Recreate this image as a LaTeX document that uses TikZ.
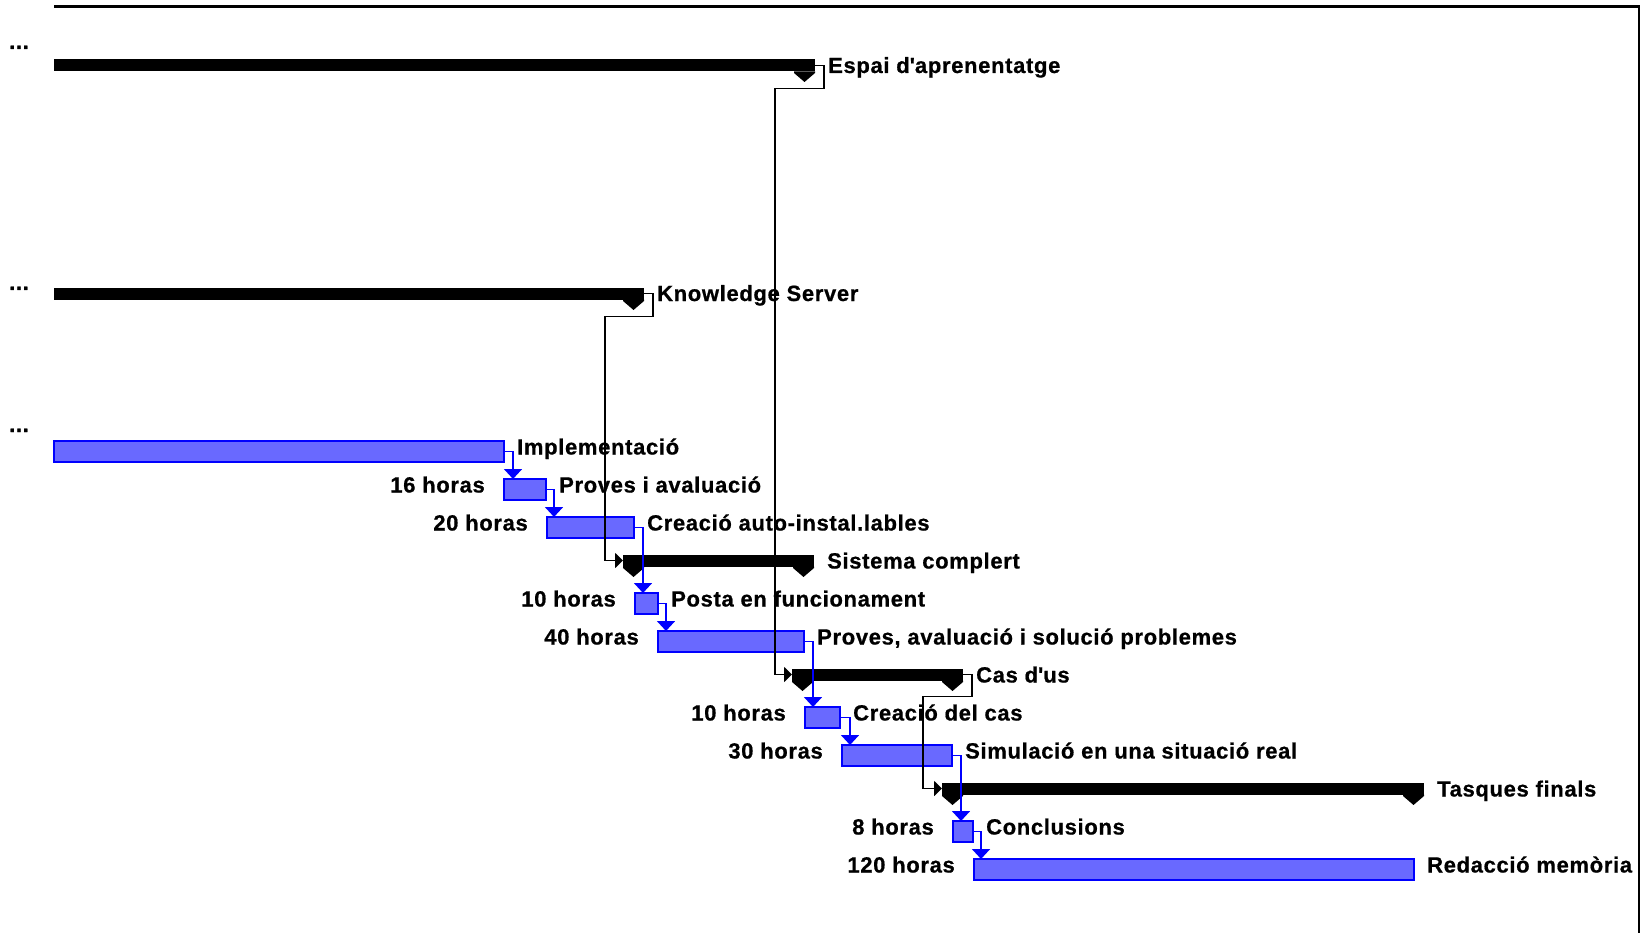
\documentclass[tikz,border=0pt]{standalone}
\usepackage{fontspec}
\newfontfamily\lbf{Liberation Sans}[LetterSpace=3, BoldFeatures={FakeBold=0.7}]
\usetikzlibrary{arrows.meta}
\definecolor{tblue}{RGB}{0,0,255}
\definecolor{tfill}{RGB}{105,105,255}
\newcommand{\lbfont}{\lbf\bfseries\fontsize{22}{22}\selectfont}
\tikzset{
  task/.style={draw=tblue, fill=tfill, line width=1.5pt, minimum height=21pt, inner sep=0pt, outer sep=0pt, anchor=north west},
  sumbar/.style={fill=black, minimum height=12pt, inner sep=0pt, outer sep=0pt, anchor=north west},
  lbl/.style={font=\lbfont, inner sep=0pt, anchor=base west},
  hrs/.style={font=\lbfont, inner sep=0pt, anchor=base east},
  bconn/.style={draw=tblue, line width=1.8pt, -{Triangle[length=10pt,width=18pt]}},
  kconn/.style={draw=black, line width=1.8pt, -{Triangle[length=8pt,width=15pt]}},
}
\begin{document}
\begin{tikzpicture}[x=1pt,y=-1pt]
\useasboundingbox[fill=white] (0,0) rectangle (1640,933);
% frame
\draw[line width=3pt] (54,6.5) -- (1640,6.5);
\draw[line width=2pt] (1639,6) -- (1639,933);
% truncated names
\node[lbl] (d1) at (9,49) {...};
\node[lbl] (d2) at (9,290) {...};
\node[lbl] (d3) at (9,432) {...};
% summary bars
\node[sumbar, minimum width=761pt] (espai) at (54,59.5) {};
\node[sumbar, minimum width=590pt] (know) at (54,287.5) {};
\node[sumbar, minimum width=191pt] (sist) at (623,554.5) {};
\node[sumbar, minimum width=171pt] (cas) at (792,668.5) {};
\node[sumbar, minimum width=482pt] (tasq) at (942,782.5) {};
\foreach \s in {sist,cas,tasq}
  \fill (\s.south west) -- ++(0,1.5) -- ++(10.5,9) -- ++(10.5,-9) -- ++(0,-1.5) -- cycle;
\foreach \s in {espai,know,sist,cas,tasq}
  \fill (\s.south east) -- ++(0,1.5) -- ++(-10.5,9) -- ++(-10.5,-9) -- ++(0,-1.5) -- cycle;
% task bars
\node[task, minimum width=450pt] (impl) at (54,441) {};
\node[task, minimum width=42pt] (prov) at (504,479) {};
\node[task, minimum width=87pt] (crea) at (547,517) {};
\node[task, minimum width=23pt] (posta) at (635,593) {};
\node[task, minimum width=146pt] (prov40) at (658,631) {};
\node[task, minimum width=35pt] (creacas) at (805,707) {};
\node[task, minimum width=110pt] (sim) at (842,745) {};
\node[task, minimum width=20pt] (concl) at (953,821) {};
\node[task, minimum width=440pt] (redac) at (974,859) {};
% labels
\node[lbl] (lespai) at (828,73) {Espai d\textquotesingle aprenentatge};
\node[lbl] (lknow) at (657,301) {Knowledge Server};
\node[lbl] (limpl) at (517,454.5) {Implementació};
\node[lbl] (lprov) at (559,492.5) {Proves i avaluació};
\node[lbl] (lcrea) at (647,530.5) {Creació auto-instal.lables};
\node[lbl] (lsist) at (827,568.5) {Sistema complert};
\node[lbl] (lposta) at (671,606.5) {Posta en funcionament};
\node[lbl] (lprov40) at (817,644.5) {Proves, avaluació i solució problemes};
\node[lbl] (lcas) at (976,682.5) {Cas d\textquotesingle us};
\node[lbl] (lcreacas) at (853,720.5) {Creació del cas};
\node[lbl] (lsim) at (965,758.5) {Simulació en una situació real};
\node[lbl] (ltasq) at (1437,796.5) {Tasques finals};
\node[lbl] (lconcl) at (986,834.5) {Conclusions};
\node[lbl] (lredac) at (1427,872.5) {Redacció memòria};
% hours
\node[hrs] (hprov) at (485,492.5) {16 horas};
\node[hrs] (hcrea) at (528,530.5) {20 horas};
\node[hrs] (hposta) at (616,606.5) {10 horas};
\node[hrs] (hprov40) at (639,644.5) {40 horas};
\node[hrs] (hcreacas) at (786,720.5) {10 horas};
\node[hrs] (hsim) at (823,758.5) {30 horas};
\node[hrs] (hconcl) at (934,834.5) {8 horas};
\node[hrs] (hredac) at (955,872.5) {120 horas};
% summary links
\draw[kconn] (espai.east) -- ++(9,0) -- ++(0,23) -| ([xshift=-17pt]cas.west) -- (cas.west);
\draw[kconn] (know.east) -- ++(9,0) -- ++(0,23) -| ([xshift=-18pt]sist.west) -- (sist.west);
\draw[kconn] (cas.east) -- ++(9,0) -- ++(0,22) -| ([xshift=-19pt]tasq.west) -- (tasq.west);
% task links
\draw[bconn] (impl.east) -| ([xshift=9pt]prov.north west);
\draw[bconn] (prov.east) -| ([xshift=7pt]crea.north west);
\draw[bconn] (crea.east) -| ([xshift=8pt]posta.north west);
\draw[bconn] (posta.east) -| ([xshift=8pt]prov40.north west);
\draw[bconn] (prov40.east) -| ([xshift=8pt]creacas.north west);
\draw[bconn] (creacas.east) -| ([xshift=8pt]sim.north west);
\draw[bconn] (sim.east) -| ([xshift=8pt]concl.north west);
\draw[bconn] (concl.east) -| ([xshift=7pt]redac.north west);
\end{tikzpicture}
\end{document}
